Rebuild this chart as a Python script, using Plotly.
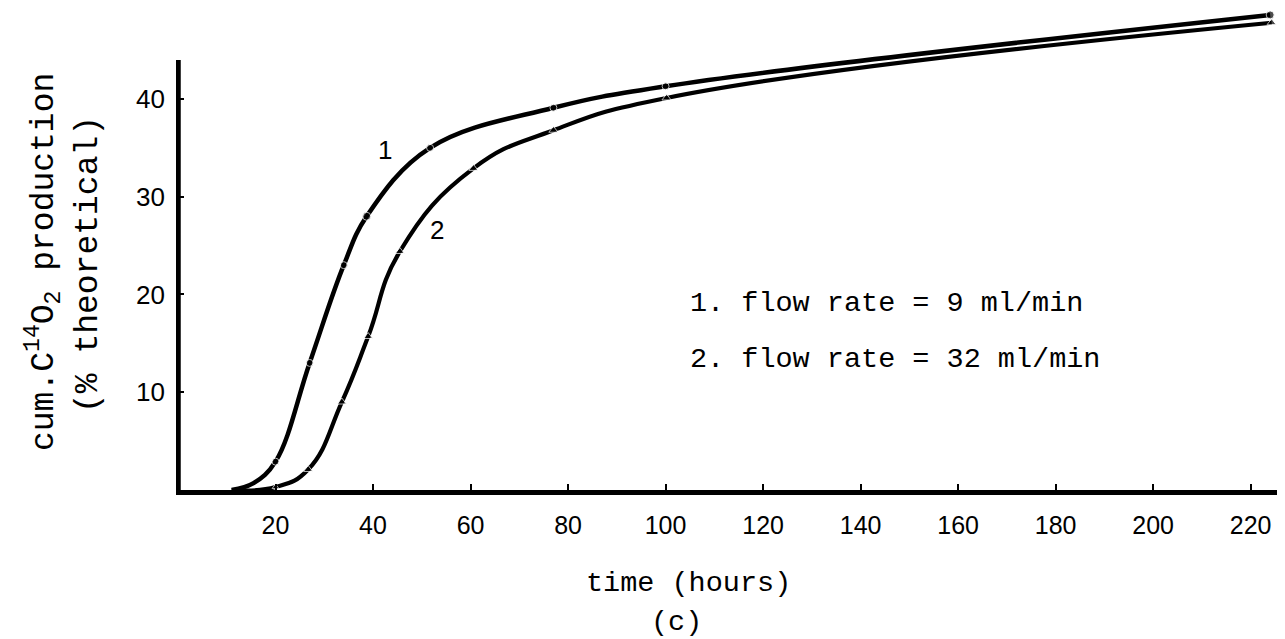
import plotly.graph_objects as go

# ---- data ----
time_1 = [11, 15.5, 20, 27, 34, 38.7, 51.7, 77, 100, 224]
prod_1 = [0, 0.7, 2.9, 13, 23, 28, 35, 39.1, 41.3, 48.6]
marker_1 = [0, 0, 7, 7, 7, 8, 7, 7, 7, 8]

time_2 = [11, 20, 26.7, 33.6, 39, 45.5, 60.6, 77, 100.2, 224.3]
prod_2 = [0, 0.3, 2.1, 9.0, 15.7, 24.4, 32.9, 36.8, 40.1, 47.8]
marker_2 = [0, 6, 8, 8, 8, 8, 8, 8, 8, 8]

x_ticks = [20, 40, 60, 80, 100, 120, 140, 160, 180, 200, 220]
y_ticks = [10, 20, 30, 40]

legend_lines = ["1. flow rate = 9 ml/min", "2. flow rate = 32 ml/min"]
curve_labels = ["1", "2"]

MONO = "Liberation Mono, Courier New, monospace"
SANS = "Liberation Sans, Arial, Helvetica, sans-serif"

W, H = 1285, 639
L, R, T, B = 176, 8, 11, 149
pw, ph = W - L - R, H - T - B


def px_to_paper(px, py):
    return (px - L) / pw, (H - B - py) / ph


fig = go.Figure()
fig.add_trace(go.Scatter(
    x=time_1, y=prod_1, mode="lines+markers",
    line=dict(color="black", width=4.5, shape="spline", smoothing=1.1),
    marker=dict(symbol="circle", size=marker_1, color="black"),
    showlegend=False, hoverinfo="skip"))
fig.add_trace(go.Scatter(
    x=time_2, y=prod_2, mode="lines+markers",
    line=dict(color="black", width=4.2, shape="spline", smoothing=1.3),
    marker=dict(symbol="triangle-up", size=marker_2, color="black"),
    showlegend=False, hoverinfo="skip"))

# y axis line only up to 44
fig.add_shape(type="line", xref="x", yref="y", x0=0, x1=0, y0=0, y1=44,
              line=dict(color="black", width=5.5))

fig.update_xaxes(
    range=[-0.41, 225.4], tickvals=x_ticks, ticktext=[str(v) for v in x_ticks],
    ticks="inside", ticklen=6, tickwidth=1.5, tickcolor="black",
    showline=True, linecolor="black", linewidth=5,
    showgrid=False, zeroline=False,
    tickfont=dict(family=SANS, size=25, color="black"),
    ticklabelstandoff=9,
)
fig.update_yaxes(
    range=[0, 49], tickvals=y_ticks, ticktext=[str(v) for v in y_ticks],
    ticks="inside", ticklen=8, tickwidth=1.5, tickcolor="black",
    showline=False, showgrid=False, zeroline=False,
    tickfont=dict(family=SANS, size=26, color="black"),
    ticklabelstandoff=10,
)

ann = []
# legend text
for i, txt in enumerate(legend_lines):
    ann.append(dict(x=104.6, y=[19.1, 13.3][i], xref="x", yref="y", text=txt,
                    showarrow=False, xanchor="left", yanchor="middle",
                    font=dict(family=MONO, size=28.5, color="black")))
# curve labels
ann.append(dict(x=42.5, y=34.8, xref="x", yref="y", text=curve_labels[0], showarrow=False,
                font=dict(family=SANS, size=26, color="black")))
ann.append(dict(x=53.1, y=26.6, xref="x", yref="y", text=curve_labels[1], showarrow=False,
                font=dict(family=SANS, size=26, color="black")))

# titles placed by pixel position
titles = [
    ("time (hours)", 688, 583, 0, 28.5),
    ("(c)", 676, 622, 0, 28.5),
    ("cum.C<sup>14</sup>O<sub>2</sub> production", 43, 262, -90, 33),
    ("(% theoretical)", 88, 265, -90, 33),
]
for txt, px, py, ang, sz in titles:
    xp, yp = px_to_paper(px, py)
    ann.append(dict(x=xp, y=yp, xref="paper", yref="paper", text=txt,
                    showarrow=False, textangle=ang, xanchor="center", yanchor="middle",
                    font=dict(family=MONO, size=sz, color="black")))

fig.update_layout(
    width=W, height=H,
    margin=dict(l=L, r=R, t=T, b=B),
    paper_bgcolor="white", plot_bgcolor="white",
    annotations=ann,
)

fig.write_html("out.html")
